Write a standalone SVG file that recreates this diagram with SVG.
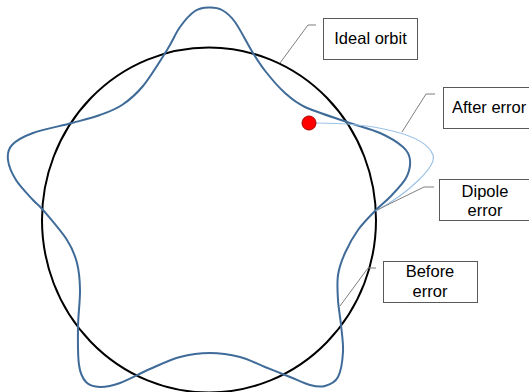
<svg xmlns="http://www.w3.org/2000/svg" width="529" height="392" viewBox="0 0 529 392">
<style>
.box{fill:#ffffff;stroke:#595959;stroke-width:1}
.lbl{font-family:"Liberation Sans",Arial,sans-serif;font-size:16.5px;fill:#000000}
.ptr{fill:none;stroke:#7f7f7f;stroke-width:1}
</style>
<rect width="529" height="392" fill="#ffffff"/>
<g id="ideal-orbit-circle">
<ellipse cx="209" cy="220" rx="167" ry="172.5" fill="none" stroke="#000000" stroke-width="2"/>
</g>
<g id="orbit-before-error">
<path fill="none" stroke="#3f6b99" stroke-width="2" d="M209,7.5 C213.5,7.33 217.67,7.58 222,10 S229.83,14.83 235,22 S247.83,44.67 253,53 S260.67,65.33 266,72 S278.5,87.17 285,93 S294.67,102.17 305,107 S334.5,117.67 347,122 S370.67,128.83 380,133 S398,142.5 403,147 S409.5,154.83 410,160 S409.33,171.83 406,178 S395,191.67 390,197 S381.33,204.5 376,210 S363.17,222.83 358,230 S348.33,245.5 345,253 S339.17,267.17 338,275 S337.5,291.67 338,300 S340.17,316.33 341,325 S343.5,343.33 343,352 S341,371.33 338,377 S329.67,384.67 325,386 S315.83,386.5 310,385 S297.5,380 290,377 S273.33,370.33 265,367 S249.17,359.33 240,357 S220,353 210,353 S190,354.33 180,357 S160,364.67 150,369 S128.33,380 120,383 S105.67,387.17 100,387 S89.5,385.67 86,382 S80.33,374.17 79,365 S77.83,339.5 78,327 S80.17,300.67 80,290 S79.17,271.33 77,263 S72.67,248.83 67,240 S48.67,216.67 43,210 S37.5,205 33,200 S20.17,186.67 16,180 S8.67,165.83 8,160 S7.83,149.5 12,145 S23,136.67 33,133 S60.83,126 72,123 S91.67,118 100,115 S114.83,109.83 122,105 S135.5,95.17 143,86 S160.83,59.83 167,50 S175.33,33.5 180,27 S190.17,14.25 195,11 S204.5,7.67 209,7.5 Z"/>
</g>
<g id="orbit-after-error">
<path fill="none" stroke="#9dc3e6" stroke-width="1.2" d="M316,123 C370,123 425,133 433,155 C437,166 410,192 376,211"/>
</g>
<g id="dipole-kick">
<circle cx="309" cy="123" r="7" fill="#ff0000" stroke="#b00000" stroke-width="1"/>
</g>
<g id="connectors">
<path class="ptr" d="M280,63 L308,25 L316,25"/>
<path class="ptr" d="M402,132 L426,94 L435,94"/>
<path class="ptr" d="M377,210 L424,187 L434,187"/>
<path class="ptr" d="M340,306 L368,268 L376,268"/>
</g>
<g id="label-ideal-orbit">
<rect class="box" x="323.5" y="18.5" width="94" height="41"/>
<text class="lbl" x="370.5" y="44" text-anchor="middle">Ideal orbit</text>
</g>
<g id="label-after-error">
<rect class="box" x="443.5" y="87.5" width="92" height="41"/>
<text class="lbl" x="452" y="113">After error</text>
</g>
<g id="label-dipole-error">
<rect class="box" x="439.5" y="179.5" width="92" height="41"/>
<text class="lbl" x="485" y="197" text-anchor="middle">Dipole</text>
<text class="lbl" x="485" y="216" text-anchor="middle">error</text>
</g>
<g id="label-before-error">
<rect class="box" x="383.5" y="261.5" width="94" height="41"/>
<text class="lbl" x="430" y="277" text-anchor="middle">Before</text>
<text class="lbl" x="430" y="297" text-anchor="middle">error</text>
</g>
</svg>
